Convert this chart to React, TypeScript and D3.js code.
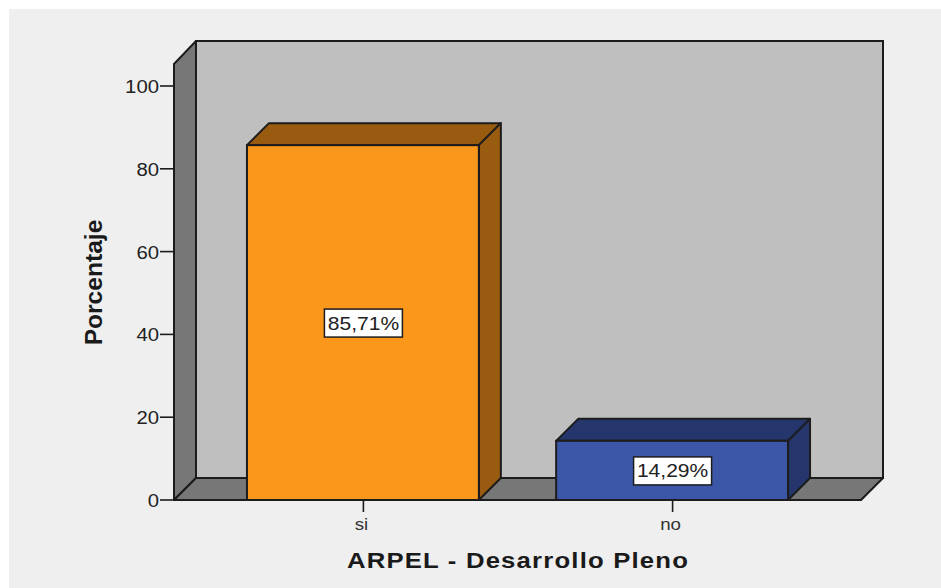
import React from "react";
import * as d3 from "d3";

const categories = ["si", "no"];
const percentages = [85.71, 14.29];
const percentLabels = ["85,71%", "14,29%"];
const barColors = ["#fb981c", "#3d57a8"];
const barTopColors = ["#995b10", "#24366b"];
const yTicks = [0, 20, 40, 60, 80, 100];
const yTitle = "Porcentaje";
const xTitle = "ARPEL - Desarrollo Pleno";

const FONT = "'Liberation Sans', Arial, sans-serif";
const INK = "#1c1c1c";

export default function App() {
  const left = 174, right = 861, y0 = 500, yTop = 64, depth = 22;
  const y = d3.scaleLinear().domain([0, 100]).range([y0, 86]);
  const x = d3.scaleBand<string>().domain(categories).range([left, right]).paddingInner(0.25).paddingOuter(0.236);
  const barW = x.bandwidth();
  const poly = (pts: [number, number][]) => pts.map((p) => p.join(",")).join(" ");
  return (
    <svg width={941} height={588} style={{ position: "absolute", left: 0, top: 0, background: "#ffffff" }}>
      <rect x={9} y={9} width={932} height={579} fill="#efefef" />
      <rect x={left + depth} y={yTop - depth - 1} width={right - left} height={y0 - yTop + 1} fill="#bfbfbf" stroke={INK} strokeWidth={2} />
      <polygon points={poly([[left, yTop], [left + depth, yTop - depth - 1], [left + depth, y0 - depth], [left, y0]])} fill="#777777" stroke={INK} strokeWidth={2} strokeLinejoin="round" />
      <polygon points={poly([[left, y0], [left + depth, y0 - depth], [right + depth, y0 - depth], [right, y0]])} fill="#777777" stroke={INK} strokeWidth={2} strokeLinejoin="round" />
      {yTicks.map((t) => (
        <g key={t}>
          <line x1={160} x2={left} y1={y(t)} y2={y(t)} stroke={INK} strokeWidth={1.6} />
          <text transform={`translate(159,${y(t) + 7}) scale(1.13,1)`} textAnchor="end" fontFamily={FONT} fontSize={18} fill="#222">{t}</text>
        </g>
      ))}
      {categories.map((c, i) => {
        const bx = x(c) as number, top = y(percentages[i]);
        const cx = bx + barW / 2;
        const midY = (top + y0) / 2;
        return (
          <g key={c}>
            <polygon points={poly([[bx, top], [bx + depth, top - depth], [bx + barW + depth, top - depth], [bx + barW, top]])} fill={barTopColors[i]} stroke={INK} strokeWidth={2} strokeLinejoin="round" />
            <polygon points={poly([[bx + barW, top], [bx + barW + depth, top - depth], [bx + barW + depth, y0 - depth], [bx + barW, y0]])} fill={barTopColors[i]} stroke={INK} strokeWidth={2} strokeLinejoin="round" />
            <rect x={bx} y={top} width={barW} height={y0 - top} fill={barColors[i]} stroke={INK} strokeWidth={2} />
            <line x1={cx + 0.5} x2={cx + 0.5} y1={y0} y2={512} stroke={INK} strokeWidth={1.6} />
            <text transform={`translate(${cx - 1.5},530) scale(1.17,1)`} textAnchor="middle" fontFamily={FONT} fontSize={16} fill="#333">{c}</text>
            <rect x={cx - 38.5} y={midY - 13.5} width={78} height={28} fill="#ffffff" stroke={INK} strokeWidth={1.5} />
            <text transform={`translate(${cx + 0.5},${midY + 7}) scale(1.17,1)`} textAnchor="middle" fontFamily={FONT} fontSize={18} fill="#222">{percentLabels[i]}</text>
          </g>
        );
      })}
      <text transform="translate(102,282.5) rotate(-90) scale(1.07,1)" textAnchor="middle" fontFamily={FONT} fontSize={23} fontWeight="bold" fill="#1a1a1a">{yTitle}</text>
      <text transform="translate(518,568) scale(1.17,1)" textAnchor="middle" fontFamily={FONT} fontSize={22} letterSpacing={1} fontWeight="bold" fill="#1a1a1a">{xTitle}</text>
    </svg>
  );
}
